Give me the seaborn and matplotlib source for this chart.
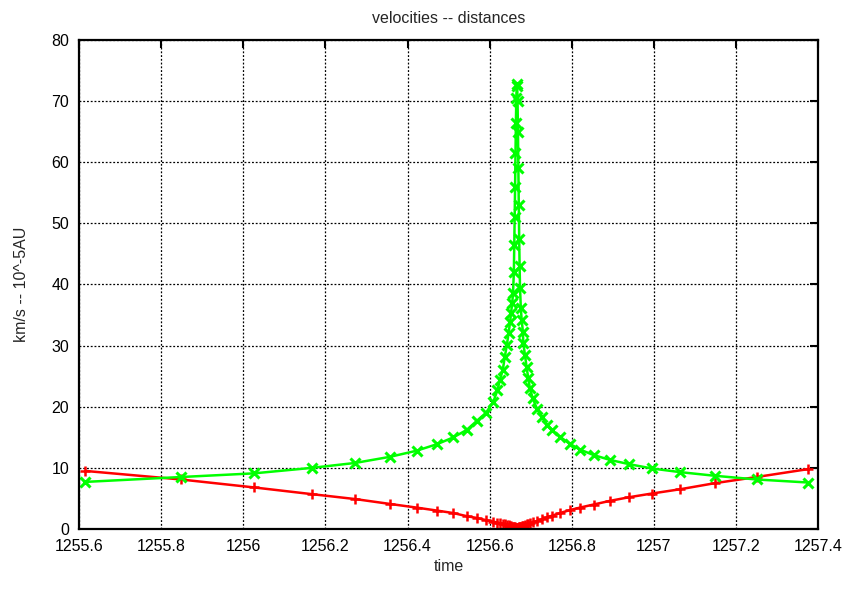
import numpy as np
import pandas as pd
import seaborn as sns
import matplotlib
matplotlib.use("Agg")
import matplotlib.pyplot as plt

# time samples (days)
time = [1255.615, 1255.848, 1256.026, 1256.167, 1256.272, 1256.357, 1256.422,
        1256.473, 1256.512, 1256.544, 1256.569, 1256.591, 1256.609, 1256.619,
        1256.625, 1256.632, 1256.637, 1256.642, 1256.646, 1256.650, 1256.652,
        1256.655, 1256.657, 1256.659, 1256.660, 1256.661, 1256.662, 1256.663,
        1256.664, 1256.665, 1256.666, 1256.667, 1256.668, 1256.669, 1256.670,
        1256.671, 1256.672, 1256.673, 1256.674, 1256.676, 1256.678, 1256.681,
        1256.682, 1256.686, 1256.690, 1256.694, 1256.698, 1256.705, 1256.715,
        1256.727, 1256.739, 1256.751, 1256.771, 1256.796, 1256.820, 1256.853,
        1256.893, 1256.940, 1256.995, 1257.064, 1257.149, 1257.250, 1257.376]

# velocity km/s
velocity = [7.7, 8.5, 9.1, 10.0, 10.8, 11.8, 12.8,
            13.9, 15.0, 16.2, 17.7, 19.0, 20.8, 22.7,
            24.4, 26.0, 28.2, 30.1, 32.0, 33.9, 35.3,
            36.9, 38.6, 42.0, 46.5, 51.0, 56.0, 61.5,
            66.5, 70.5, 72.5, 72.8, 70.0, 65.0, 59.0,
            53.0, 47.5, 43.0, 39.5, 36.1, 34.2, 32.3,
            30.4, 28.5, 26.5, 24.7, 23.0, 21.4, 19.7,
            18.4, 17.0, 16.2, 15.1, 13.9, 13.0, 12.1,
            11.3, 10.6, 9.9, 9.3, 8.7, 8.1, 7.6]

# distance 10^-5 AU
distance = [9.5, 8.1, 6.8, 5.7, 4.9, 4.1, 3.5,
            3.0, 2.6, 2.1, 1.8, 1.45, 1.2, 1.05,
            0.95, 0.85, 0.75, 0.65, 0.6, 0.5, 0.45,
            0.4, 0.35, 0.3, 0.28, 0.25, 0.22, 0.2,
            0.18, 0.15, 0.15, 0.15, 0.17, 0.2, 0.22,
            0.25, 0.28, 0.3, 0.35, 0.4, 0.45, 0.5,
            0.55, 0.65, 0.75, 0.85, 0.95, 1.1, 1.3,
            1.6, 1.9, 2.15, 2.6, 3.1, 3.5, 4.0,
            4.6, 5.2, 5.8, 6.5, 7.5, 8.5, 9.8]

xticks = [1255.6, 1255.8, 1256, 1256.2, 1256.4, 1256.6, 1256.8, 1257, 1257.2, 1257.4]
xticklabels = ["1255.6", "1255.8", "1256", "1256.2", "1256.4", "1256.6", "1256.8",
               "1257", "1257.2", "1257.4"]
yticks = [0, 10, 20, 30, 40, 50, 60, 70, 80]

df = pd.DataFrame({"time": time, "velocity": velocity, "distance": distance})

sns.set_style("white")
plt.rcParams['font.family'] = ['Liberation Sans Narrow', 'Liberation Sans', 'DejaVu Sans']

fig = plt.figure(figsize=(8.54, 5.89), dpi=100)
ax = fig.add_axes([0.0925, 0.1019, 0.8655, 0.8302])

red = "#ff0000"
green = "#00ff00"
sns.lineplot(data=df, x="time", y="distance", ax=ax, color=red, lw=1.8,
             marker="+", markersize=7.5, markeredgewidth=1.8,
             markeredgecolor=red, markerfacecolor=red, sort=False)
sns.lineplot(data=df, x="time", y="velocity", ax=ax, color=green, lw=1.8,
             marker="x", markersize=6.5, markeredgewidth=2.2,
             markeredgecolor=green, markerfacecolor=green, sort=False)

ax.set_xlim(1255.6, 1257.4)
ax.set_ylim(0, 80)
ax.set_xticks(xticks)
ax.set_xticklabels(xticklabels)
ax.set_yticks(yticks)
ax.grid(True, color="black", linestyle=(0, (1.5, 1.5)), linewidth=0.9)
ax.set_axisbelow(True)
for s in ax.spines.values():
    s.set_color("black")
    s.set_linewidth(1.6)
    s.set_zorder(5)
ax.tick_params(direction="in", length=6, width=1.5, top=True, right=True,
               labelsize=11.5, pad=7, colors="black")
ax.set_xlabel("time", fontsize=11.5, labelpad=4)
ax.set_ylabel("km/s -- 10^-5AU", fontsize=11.5, labelpad=16)
ax.set_title("velocities -- distances", fontsize=11.5, pad=12)

fig.savefig("out.png", dpi=100)
